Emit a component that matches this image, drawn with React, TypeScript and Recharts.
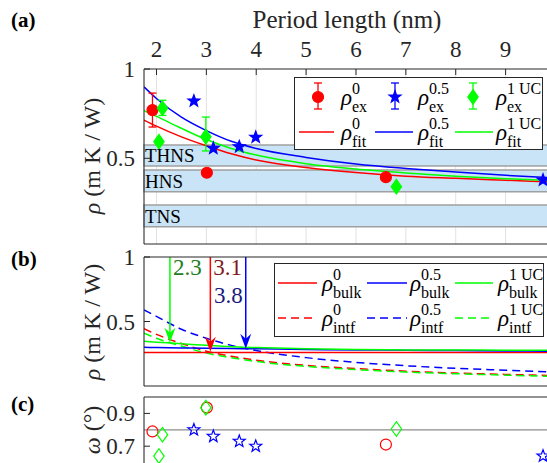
import React from "react";
import {
  ComposedChart, Line, Scatter, XAxis, YAxis, CartesianGrid, ReferenceArea,
  ReferenceLine, ReferenceDot, ErrorBar, Legend,
} from "recharts";

const FONT = "Liberation Serif";
const INK = "#262626";
const RED = "#ff0000";
const BLUE = "#0000ff";
const GREEN = "#00ff00";

const X_DOMAIN = [1.75, 9.85];
const X_TICKS = [2, 3, 4, 5, 6, 7, 8, 9];

// (a) measured points
const exX0 = [1.92, 3.01, 6.6];
const exY0 = [0.77, 0.419, 0.394];
const exErr0 = [0.095, 0, 0];
const exX05 = [2.75, 3.14, 3.66, 3.99, 9.75];
const exY05 = [0.821, 0.556, 0.565, 0.618, 0.378];
const exX1 = [2.12, 2.05, 2.99, 6.81];
const exY1 = [0.78, 0.593, 0.621, 0.341];
const exErr1: any[] = [[0.04, 0.045], 0, [0.08, 0.11], 0];

// (a) fits
const fitX = [1.75, 2, 2.5, 3, 3.5, 4, 5, 6, 7, 8, 9, 9.85];
const fit0 = [0.714, 0.68, 0.62, 0.57, 0.525, 0.49, 0.448, 0.42, 0.4, 0.388, 0.377, 0.368];
const fit05 = [0.9, 0.835, 0.73, 0.655, 0.595, 0.555, 0.505, 0.468, 0.443, 0.423, 0.405, 0.392];
const fit1 = [0.767, 0.735, 0.668, 0.605, 0.555, 0.518, 0.47, 0.44, 0.418, 0.4, 0.386, 0.376];

// (a) bands
const bandNames = ["THNS", "HNS", "TNS"];
const bandLow = [0.457, 0.313, 0.117];
const bandHigh = [0.574, 0.434, 0.238];

// (b) bulk / interface
const bulk0 = [0.26, 0.26, 0.26, 0.26, 0.26, 0.26, 0.26, 0.26, 0.26, 0.26, 0.26, 0.26];
const bulk05 = [0.3, 0.298, 0.295, 0.292, 0.29, 0.288, 0.283, 0.28, 0.277, 0.275, 0.272, 0.27];
const bulk1 = [0.346, 0.34, 0.328, 0.315, 0.305, 0.298, 0.288, 0.283, 0.28, 0.279, 0.278, 0.277];
const intf0 = [0.444, 0.4, 0.33, 0.27, 0.23, 0.2, 0.16, 0.135, 0.115, 0.1, 0.09, 0.082];
const intf05 = [0.59, 0.54, 0.44, 0.37, 0.315, 0.275, 0.22, 0.183, 0.157, 0.137, 0.122, 0.11];
const intf1 = [0.41, 0.37, 0.31, 0.255, 0.22, 0.19, 0.152, 0.127, 0.108, 0.095, 0.084, 0.075];

const arrowX = [2.27, 3.08, 3.79];
const arrowTip = [0.335, 0.265, 0.289];
const arrowLabels = ["2.3", "3.1", "3.8"];

// (c) angle
const om0 = [0.79, 0.935, 0.71];
const om05 = [0.8, 0.76, 0.73, 0.7, 0.64];
const om1 = [0.77, 0.64, 0.935, 0.805];

const pts = (xs: number[], ys: number[], es?: any[]) =>
  xs.map((x, i) => ({ x, y: ys[i], err: es ? es[i] : 0 }));

const starPts = (cx: number, cy: number, R: number, r: number) => {
  const p: string[] = [];
  for (let k = 0; k < 10; k++) {
    const a = ((-90 + k * 36) * Math.PI) / 180;
    const d = k % 2 ? r : R;
    p.push(`${cx + d * Math.cos(a)},${cy + d * Math.sin(a)}`);
  }
  return p.join(" ");
};
const diaPts = (cx: number, cy: number) =>
  `${cx},${cy - 7.3} ${cx + 5.2},${cy} ${cx},${cy + 7.3} ${cx - 5.2},${cy}`;

const Dot = (filled: boolean) => (p: any) =>
  <circle cx={p.cx} cy={p.cy} r={5.5} fill={filled ? RED : "none"} stroke={RED} strokeWidth={1.2} />;
const Star = (filled: boolean) => (p: any) =>
  <polygon points={starPts(p.cx, p.cy, 6.3, 2.6)} fill={filled ? BLUE : "none"} stroke={BLUE} strokeWidth={1.2} />;
const Diamond = (filled: boolean) => (p: any) =>
  <polygon points={diaPts(p.cx, p.cy)} fill={filled ? GREEN : "none"} stroke={GREEN} strokeWidth={1.2} />;

// tick text drawn by hand so size and face stay put
const SerifTick = (p: any) => (
  <text x={p.x} y={p.y} textAnchor={p.textAnchor} fill={INK} fontSize={23}
    fontFamily={FONT} dy={p.orientation === "left" ? 8 : 0}>
    {p.payload.value}
  </text>
);

function Rho({ x, y, sup, sub }: { x: number; y: number; sup: string; sub: string }) {
  return (
    <g fontFamily={FONT} fill="#000">
      <text x={x} y={y + 7.5} fontSize={23} fontStyle="italic">ρ</text>
      <text x={x + 11} y={y - 3} fontSize={16}>{sup}</text>
      <text x={x + 11} y={y + 15} fontSize={16}>{sub}</text>
    </g>
  );
}

function LegendA() {
  const bar = (x: number, c: string) => (
    <g stroke={c} strokeWidth={1.3}>
      <line x1={x} x2={x} y1={6} y2={32} />
      <line x1={x - 4} x2={x + 4} y1={6} y2={6} />
      <line x1={x - 4} x2={x + 4} y1={32} y2={32} />
    </g>
  );
  return (
    <div style={{ width: 249, height: 73, border: `1px solid ${INK}`, background: "#fff", boxSizing: "border-box" }}>
      <svg width={249} height={73} style={{ display: "block", marginLeft: -1, marginTop: -1 }}>
        {bar(24, RED)}
        {Dot(true)({ cx: 24, cy: 20 })}
        {bar(101, BLUE)}
        {Star(true)({ cx: 101, cy: 20 })}
        {bar(179, GREEN)}
        {Diamond(true)({ cx: 179, cy: 20 })}
        <Rho x={47} y={20} sup="0" sub="ex" />
        <Rho x={124} y={20} sup="0.5" sub="ex" />
        <Rho x={202} y={20} sup="1 UC" sub="ex" />
        <line x1={5} x2={40} y1={55} y2={55} stroke={RED} strokeWidth={1.5} />
        <line x1={81} x2={119} y1={55} y2={55} stroke={BLUE} strokeWidth={1.5} />
        <line x1={161} x2={199} y1={55} y2={55} stroke={GREEN} strokeWidth={1.5} />
        <Rho x={47} y={55} sup="0" sub="fit" />
        <Rho x={124} y={55} sup="0.5" sub="fit" />
        <Rho x={202} y={55} sup="1 UC" sub="fit" />
      </svg>
    </div>
  );
}

function LegendB() {
  const seg = (x1: number, x2: number, y: number, c: string, dash?: string) =>
    <line x1={x1} x2={x2} y1={y} y2={y} stroke={c} strokeWidth={1.5} strokeDasharray={dash} />;
  return (
    <div style={{ width: 270, height: 74, border: `1px solid ${INK}`, background: "#fff", boxSizing: "border-box" }}>
      <svg width={270} height={74} style={{ display: "block", marginLeft: -1, marginTop: -1 }}>
        {seg(4, 43, 20, RED)}
        {seg(93, 133, 20, BLUE)}
        {seg(181, 219, 20, GREEN)}
        <Rho x={48} y={20} sup="0" sub="bulk" />
        <Rho x={136} y={20} sup="0.5" sub="bulk" />
        <Rho x={224} y={20} sup="1 UC" sub="bulk" />
        {seg(4, 43, 55, RED, "8 5")}
        {seg(93, 133, 55, BLUE, "8 5")}
        {seg(181, 219, 55, GREEN, "8 5")}
        <Rho x={48} y={55} sup="0" sub="intf" />
        <Rho x={136} y={55} sup="0.5" sub="intf" />
        <Rho x={224} y={55} sup="1 UC" sub="intf" />
      </svg>
    </div>
  );
}

const Arrowhead = (color: string) => (p: any) => (
  <polygon
    points={`${p.cx},${p.cy} ${p.cx - 5.5},${p.cy - 15} ${p.cx},${p.cy - 10} ${p.cx + 5.5},${p.cy - 15}`}
    fill={color}
  />
);
const ArrowText = (label: string, color: string, dx: number, dy: number, anchor: string) => (p: any) => (
  <text x={p.cx + dx} y={p.cy + dy} fill={color} fontSize={23} fontFamily={FONT} textAnchor={anchor}>{label}</text>
);

function axes(top: boolean, topH: number, botH: number, yDomain: number[], yTicks: number[]) {
  return [
    <CartesianGrid key="g" vertical horizontal={false} stroke="#e2e2e2" />,
    <XAxis key="xt" dataKey="x" type="number" orientation="top" domain={X_DOMAIN} ticks={X_TICKS}
      height={topH} allowDataOverflow tickSize={-6} tickMargin={18} stroke={INK}
      tick={top ? SerifTick : false} />,
    <XAxis key="xb" xAxisId={1} dataKey="x" type="number" orientation="bottom" domain={X_DOMAIN}
      ticks={X_TICKS} height={botH} allowDataOverflow tickSize={-6} stroke={INK} tick={false} />,
    <YAxis key="y" type="number" domain={yDomain} ticks={yTicks} width={40} allowDataOverflow
      tickSize={-6} tickMargin={15} stroke={INK} tick={SerifTick} />,
  ];
}

export default function App() {
  const lineA = (ys: number[], c: string, k: string) => (
    <Line key={k} data={pts(fitX, ys)} dataKey="y" type="monotone" stroke={c} strokeWidth={1.5}
      dot={false} isAnimationActive={false} />
  );
  const lineB = (ys: number[], c: string, k: string, dash?: string) => (
    <Line key={k} data={pts(fitX, ys)} dataKey="y" type="monotone" stroke={c} strokeWidth={1.5}
      strokeDasharray={dash} dot={false} isAnimationActive={false} />
  );
  const arrowColors = [GREEN, RED, BLUE];
  const textColors = ["#1e7d1e", "#7a1a1a", "#1a1a80"];

  return (
    <div style={{ position: "absolute", left: 0, top: 0, width: 547, height: 463, overflow: "hidden", background: "#fff" }}>
      {/* (a) */}
      <div style={{ position: "absolute", left: 0, top: 0 }}>
        <ComposedChart width={560} height={250} margin={{ top: 39, right: 12, bottom: 0, left: 104 }}>
          {axes(true, 30, 6, [0.02, 1], [0.5, 1])}
          {bandNames.map((n, i) => (
            <ReferenceArea key={n} y1={bandLow[i]} y2={bandHigh[i]} fill="#c8e4f6" fillOpacity={1}
              stroke="#a0a0a0" strokeWidth={1.5}
              label={{ value: n, position: "insideLeft", offset: 1, fontSize: 19, fontFamily: FONT, fill: "#000" }} />
          ))}
          {lineA(fit0, RED, "f0")}
          {lineA(fit05, BLUE, "f05")}
          {lineA(fit1, GREEN, "f1")}
          <Scatter data={pts(exX0, exY0, exErr0)} dataKey="y" shape={Dot(true)} isAnimationActive={false}>
            <ErrorBar dataKey="err" direction="y" width={4} stroke={RED} strokeWidth={1.3} />
          </Scatter>
          <Scatter data={pts(exX05, exY05)} dataKey="y" shape={Star(true)} isAnimationActive={false} />
          <Scatter data={pts(exX1, exY1, exErr1)} dataKey="y" shape={Diamond(true)} isAnimationActive={false}>
            <ErrorBar dataKey="err" direction="y" width={4} stroke={GREEN} strokeWidth={1.3} />
          </Scatter>
          <Legend layout="horizontal" verticalAlign="middle" align="center" content={() => <LegendA />}
            wrapperStyle={{ left: 294, top: 77, width: 249, height: 73 }} />
        </ComposedChart>
      </div>

      {/* (b) */}
      <div style={{ position: "absolute", left: 0, top: 244 }}>
        <ComposedChart width={560} height={146} margin={{ top: 6, right: 12, bottom: 0, left: 104 }}>
          {axes(false, 7, 4, [0, 1], [0.5, 1])}
          {lineB(intf0, RED, "i0", "8 5")}
          {lineB(intf05, BLUE, "i05", "8 5")}
          {lineB(intf1, GREEN, "i1", "8 5")}
          {lineB(bulk0, RED, "b0")}
          {lineB(bulk05, BLUE, "b05")}
          {lineB(bulk1, GREEN, "b1")}
          {arrowX.map((x, i) => (
            <ReferenceLine key={"al" + i} segment={[{ x, y: 1 }, { x, y: arrowTip[i] + 0.05 }]}
              stroke={arrowColors[i]} strokeWidth={1.5} />
          ))}
          {arrowX.map((x, i) => (
            <ReferenceDot key={"ah" + i} x={x} y={arrowTip[i]} shape={Arrowhead(arrowColors[i])} />
          ))}
          {arrowX.map((x, i) => (
            <ReferenceDot key={"at" + i} x={x} y={1}
              shape={i === 2 ? ArrowText(arrowLabels[i], textColors[i], -3, 46, "end")
                : ArrowText(arrowLabels[i], textColors[i], 3, 18, "start")} />
          ))}
          <Legend layout="horizontal" verticalAlign="middle" align="center" content={() => <LegendB />}
            wrapperStyle={{ left: 274, top: 19, width: 270, height: 74 }} />
        </ComposedChart>
      </div>

      {/* (c) */}
      <div style={{ position: "absolute", left: 0, top: 390 }}>
        <ComposedChart width={560} height={100} margin={{ top: 0, right: 12, bottom: 0, left: 104 }}>
          {axes(false, 7, 11, [0.5, 1], [0.7, 0.9])}
          <ReferenceLine y={0.8} stroke="#8c8c8c" strokeWidth={1.3} />
          <Scatter data={pts(exX0, om0)} dataKey="y" shape={Dot(false)} isAnimationActive={false} />
          <Scatter data={pts(exX05, om05)} dataKey="y" shape={Star(false)} isAnimationActive={false} />
          <Scatter data={pts(exX1, om1)} dataKey="y" shape={Diamond(false)} isAnimationActive={false} />
        </ComposedChart>
      </div>

      <svg width={547} height={463} style={{ position: "absolute", left: 0, top: 0, pointerEvents: "none" }}>
        <g fill="#000" fontWeight="bold" fontSize={21} fontFamily={FONT}>
          <text x={11} y={27}>(a)</text>
          <text x={11} y={266}>(b)</text>
          <text x={11} y={411}>(c)</text>
        </g>
        <text x={347} y={28} fontSize={25} fill={INK} textAnchor="middle" fontFamily={FONT}>Period length (nm)</text>
        {[156, 322].map((cy) => (
          <text key={cy} transform={`translate(92,${cy}) rotate(-90)`} textAnchor="middle" dominantBaseline="central"
            fontSize={24} fill={INK} fontFamily={FONT}>
            <tspan fontStyle="italic">ρ</tspan> (m K / W)
          </text>
        ))}
        <text transform="translate(92,430) rotate(-90)" textAnchor="middle" dominantBaseline="central"
          fontSize={24} fill={INK} fontFamily={FONT}>
          <tspan fontStyle="italic">ω</tspan> (°)
        </text>
      </svg>
    </div>
  );
}
